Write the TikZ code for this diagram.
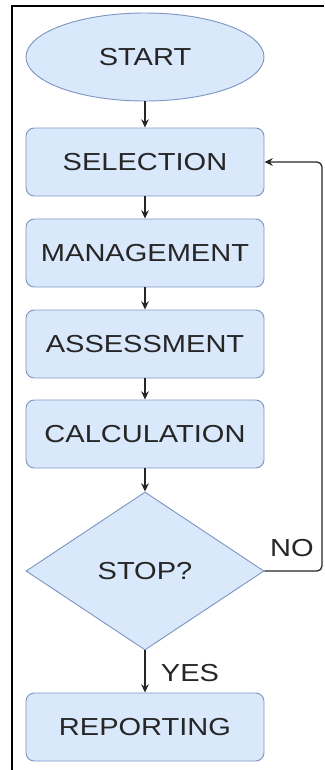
\documentclass[tikz,border=0pt]{standalone}
\usepackage{fontspec}
\setmainfont[FakeStretch=1.18]{Liberation Sans}
\usetikzlibrary{arrows.meta,shapes.geometric}
\definecolor{boxfill}{HTML}{DAE8FC}
\definecolor{boxline}{HTML}{7E98C2}

\begin{document}
\begin{tikzpicture}[
	x=0.03cm, y=-0.03cm, >={Stealth[length=7pt,width=6.5pt]},
	box/.style={draw=boxline, fill=boxfill, line width=0.8pt, rounded corners=0.25cm,
		minimum width=7.14cm, minimum height=2.04cm, inner sep=0pt},
	txt/.style={font=\fontsize{21}{25}\selectfont, text=black!85},
	flow/.style={->, line width=1.1pt, black!85}]
	%\draw [help lines] (0,0) grid (324,770);
	\useasboundingbox (0,0) rectangle (324,770);
	\draw [line width=1.6pt] (12,770) -- (12,6) -- (324,6);
	\node (start) [ellipse, draw=boxline, fill=boxfill, line width=0.8pt, inner sep=0pt,
		minimum width=7.14cm, minimum height=2.64cm, txt] at (145,57) {START};
	\node (sel) [box, txt] at (145,162) {SELECTION};
	\node (man) [box, txt] at (145,253) {MANAGEMENT};
	\node (asm) [box, txt] at (145,344) {ASSESSMENT};
	\node (calc) [box, txt] at (145,434) {CALCULATION};
	\node (stop) [diamond, draw=boxline, fill=boxfill, line width=0.8pt, inner sep=0pt,
		aspect=1.5, minimum width=7.14cm, minimum height=4.74cm, txt] at (145,571) {STOP?};
	\node (rep) [box, txt] at (145,727) {REPORTING};
	\draw [flow] (start) -- (sel);
	\draw [flow] (sel) -- (man);
	\draw [flow] (man) -- (asm);
	\draw [flow] (asm) -- (calc);
	\draw [flow] (calc) -- (stop);
	\draw [flow] (stop) -- (rep);
	\node (yes) [txt] at (190,673) {YES};
	\draw [flow, rounded corners=0.15cm] (stop.east) -- (322,571) -- (322,162) -- (sel.east);
	\node (no) [txt] at (292,548) {NO};
\end{tikzpicture}
\end{document}
